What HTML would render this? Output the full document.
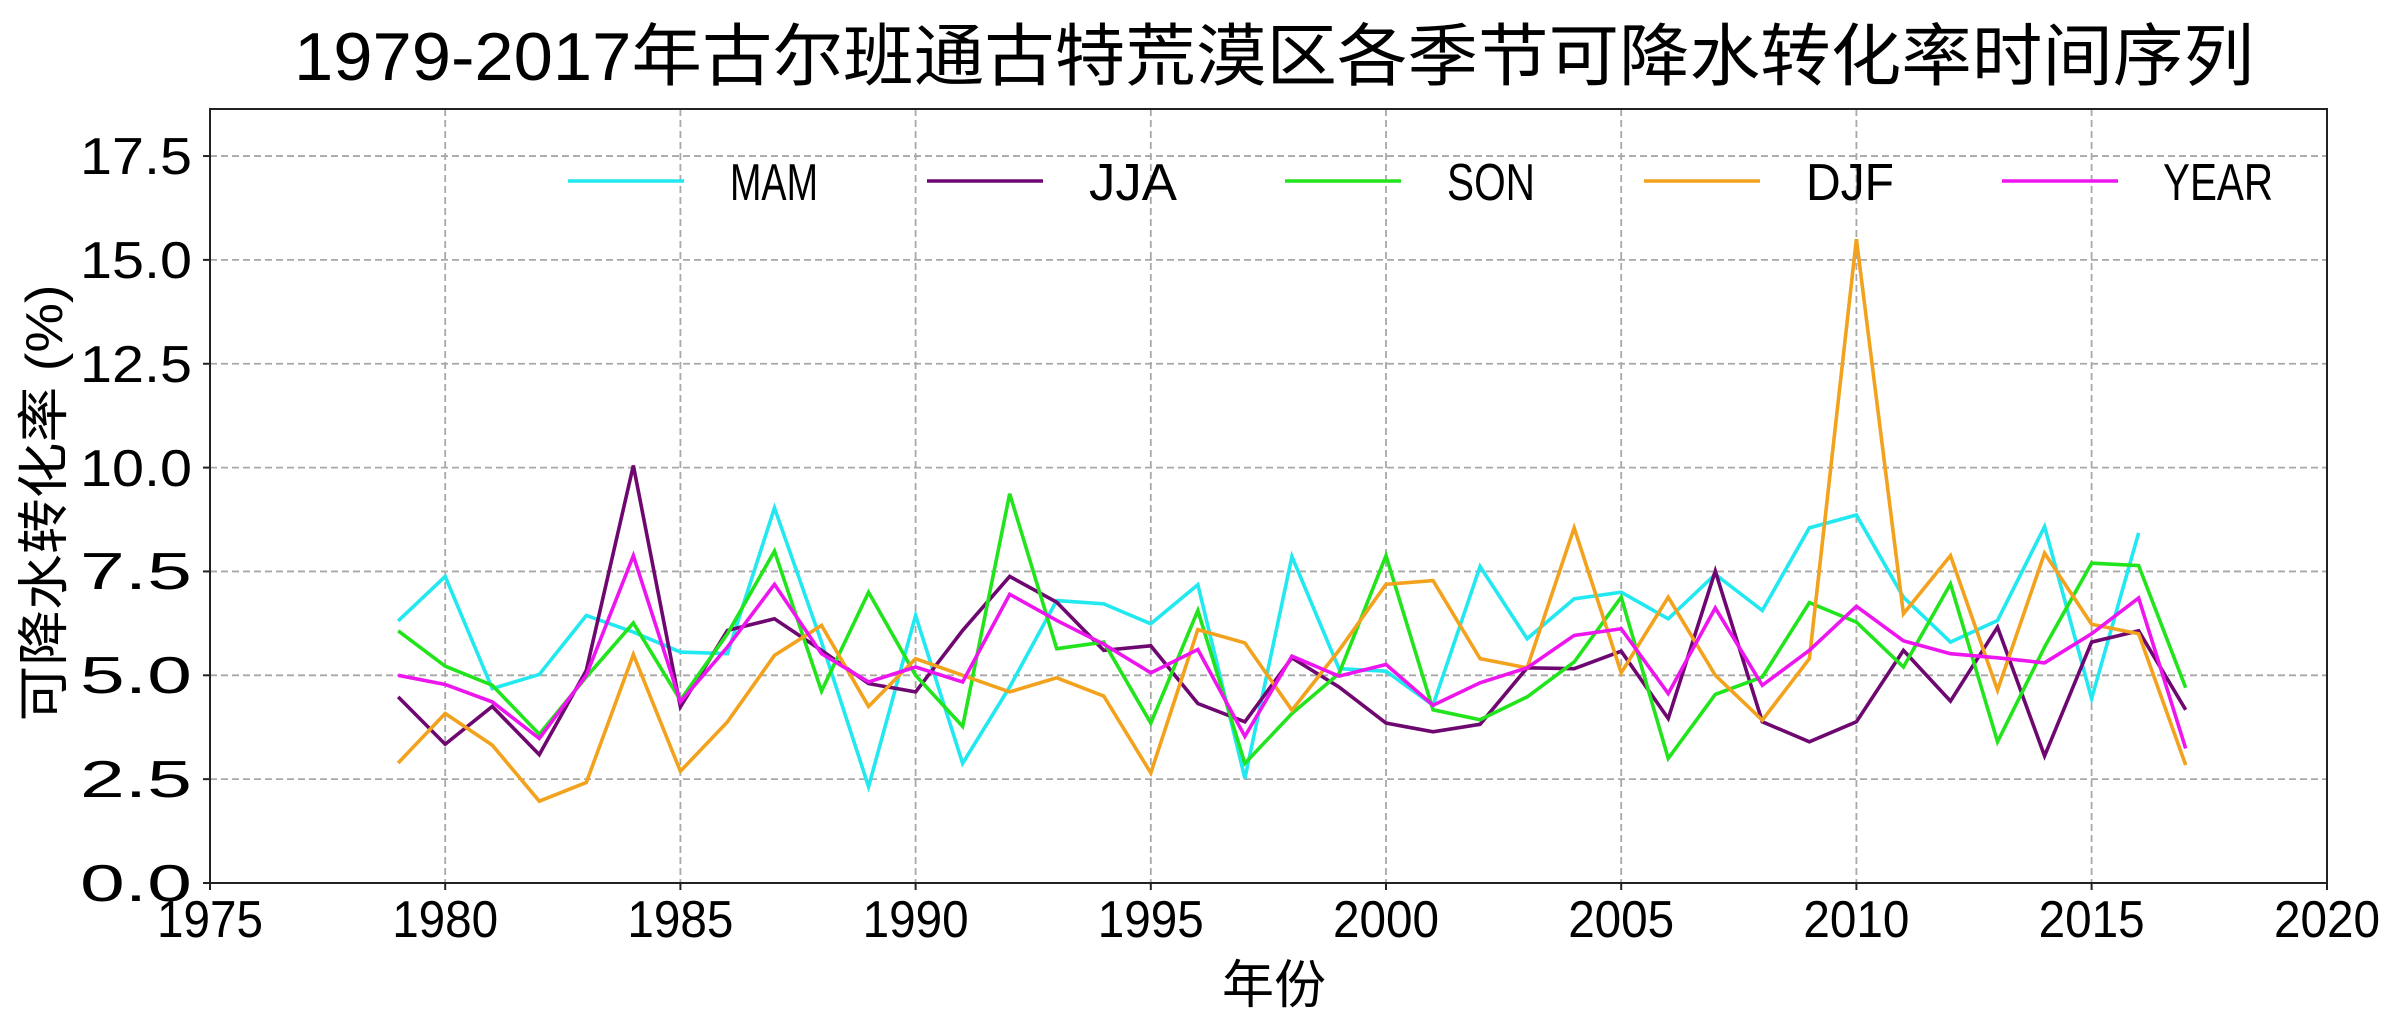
<!DOCTYPE html>
<html><head><meta charset="utf-8"><style>html,body{margin:0;padding:0;background:#fff;}svg{display:block}</style></head>
<body>
<svg width="2400" height="1025" viewBox="0 0 2400 1025" xmlns="http://www.w3.org/2000/svg" font-family="'Liberation Sans','Noto Sans CJK SC',sans-serif">
<rect width="2400" height="1025" fill="#fff"/>
<text x="1274" y="80" font-size="68" text-anchor="middle" textLength="1960" lengthAdjust="spacingAndGlyphs">1979-2017年古尔班通古特荒漠区各季节可降水转化率时间序列</text>
<g stroke="#a8a8a8" stroke-width="1.8" stroke-dasharray="7,4">
<line x1="445.2" y1="109" x2="445.2" y2="883"/><line x1="680.4" y1="109" x2="680.4" y2="883"/><line x1="915.6" y1="109" x2="915.6" y2="883"/><line x1="1150.8" y1="109" x2="1150.8" y2="883"/><line x1="1386" y1="109" x2="1386" y2="883"/><line x1="1621.2" y1="109" x2="1621.2" y2="883"/><line x1="1856.4" y1="109" x2="1856.4" y2="883"/><line x1="2091.6" y1="109" x2="2091.6" y2="883"/>
<line x1="210" y1="779.15" x2="2327" y2="779.15"/><line x1="210" y1="675.3" x2="2327" y2="675.3"/><line x1="210" y1="571.45" x2="2327" y2="571.45"/><line x1="210" y1="467.6" x2="2327" y2="467.6"/><line x1="210" y1="363.75" x2="2327" y2="363.75"/><line x1="210" y1="259.9" x2="2327" y2="259.9"/><line x1="210" y1="156.05" x2="2327" y2="156.05"/>
</g>
<g transform="translate(210,883) scale(47.04,-41.54)" fill="none" stroke-width="3.6" stroke-linejoin="miter">
<polyline vector-effect="non-scaling-stroke" stroke="#22e8f0" points="4,6.31 5,7.38 6,4.68 7,5.02 8,6.44 9,6.04 10,5.56 11,5.52 12,9.03 13,5.8 14,2.32 15,6.44 16,2.88 17,4.72 18,6.8 19,6.72 20,6.24 21,7.18 22,2.52 23,7.86 24,5.16 25,5.1 26,4.28 27,7.62 28,5.88 29,6.84 30,7.0 31,6.36 32,7.43 33,6.56 34,8.55 35,8.86 36,6.88 37,5.8 38,6.32 39,8.58 40,4.44 41,8.43"/>
<polyline vector-effect="non-scaling-stroke" stroke="#6e0870" points="4,4.48 5,3.34 6,4.25 7,3.09 8,5.12 9,10.05 10,4.24 11,6.08 12,6.36 13,5.6 14,4.8 15,4.6 16,6.08 17,7.38 18,6.76 19,5.6 20,5.71 21,4.32 22,3.88 23,5.42 24,4.72 25,3.85 26,3.64 27,3.82 28,5.18 29,5.16 30,5.58 31,3.96 32,7.51 33,3.88 34,3.4 35,3.88 36,5.6 37,4.38 38,6.16 39,3.06 40,5.8 41,6.07 42,4.17"/>
<polyline vector-effect="non-scaling-stroke" stroke="#22e41c" points="4,6.07 5,5.22 6,4.76 7,3.58 8,4.96 9,6.26 10,4.4 11,6.0 12,7.99 13,4.62 14,7.0 15,5.0 16,3.77 17,9.37 18,5.64 19,5.8 20,3.85 21,6.56 22,2.88 23,4.08 24,5.04 25,7.88 26,4.17 27,3.93 28,4.48 29,5.32 30,6.88 31,3.0 32,4.54 33,4.96 34,6.75 35,6.28 36,5.2 37,7.2 38,3.4 39,5.68 40,7.7 41,7.64 42,4.7"/>
<polyline vector-effect="non-scaling-stroke" stroke="#f2a21c" points="4,2.89 5,4.08 6,3.32 7,1.97 8,2.42 9,5.5 10,2.69 11,3.88 12,5.48 13,6.2 14,4.25 15,5.4 16,5.0 17,4.6 18,4.94 19,4.5 20,2.65 21,6.1 22,5.78 23,4.16 24,5.6 25,7.19 26,7.28 27,5.4 28,5.18 29,8.55 30,5.06 31,6.88 32,5.0 33,3.92 34,5.4 35,15.5 36,6.48 37,7.88 38,4.64 39,7.94 40,6.23 41,6.0 42,2.84"/>
<polyline vector-effect="non-scaling-stroke" stroke="#ee16ee" points="4,5.0 5,4.78 6,4.36 7,3.48 8,5.0 9,7.88 10,4.36 11,5.68 12,7.19 13,5.52 14,4.84 15,5.2 16,4.84 17,6.95 18,6.32 19,5.75 20,5.06 21,5.62 22,3.53 23,5.46 24,4.98 25,5.26 26,4.28 27,4.82 28,5.18 29,5.96 30,6.12 31,4.56 32,6.62 33,4.76 34,5.6 35,6.66 36,5.83 37,5.52 38,5.42 39,5.3 40,6.0 41,6.86 42,3.24"/>
</g>
<rect x="210" y="109" width="2117" height="774" fill="none" stroke="#222" stroke-width="2"/>
<g stroke="#222" stroke-width="2">
<line x1="210" y1="883" x2="210" y2="890"/><line x1="445.2" y1="883" x2="445.2" y2="890"/><line x1="680.4" y1="883" x2="680.4" y2="890"/><line x1="915.6" y1="883" x2="915.6" y2="890"/><line x1="1150.8" y1="883" x2="1150.8" y2="890"/><line x1="1386" y1="883" x2="1386" y2="890"/><line x1="1621.2" y1="883" x2="1621.2" y2="890"/><line x1="1856.4" y1="883" x2="1856.4" y2="890"/><line x1="2091.6" y1="883" x2="2091.6" y2="890"/><line x1="2327" y1="883" x2="2327" y2="890"/>
<line x1="203" y1="883" x2="210" y2="883"/><line x1="203" y1="779.15" x2="210" y2="779.15"/><line x1="203" y1="675.3" x2="210" y2="675.3"/><line x1="203" y1="571.45" x2="210" y2="571.45"/><line x1="203" y1="467.6" x2="210" y2="467.6"/><line x1="203" y1="363.75" x2="210" y2="363.75"/><line x1="203" y1="259.9" x2="210" y2="259.9"/><line x1="203" y1="156.05" x2="210" y2="156.05"/>
</g>
<g font-size="52" text-anchor="end">
<text x="192" y="901" textLength="112" lengthAdjust="spacingAndGlyphs">0.0</text>
<text x="192" y="797" textLength="112" lengthAdjust="spacingAndGlyphs">2.5</text>
<text x="192" y="693" textLength="112" lengthAdjust="spacingAndGlyphs">5.0</text>
<text x="192" y="589" textLength="112" lengthAdjust="spacingAndGlyphs">7.5</text>
<text x="192" y="486" textLength="112" lengthAdjust="spacingAndGlyphs">10.0</text>
<text x="192" y="382" textLength="112" lengthAdjust="spacingAndGlyphs">12.5</text>
<text x="192" y="278" textLength="112" lengthAdjust="spacingAndGlyphs">15.0</text>
<text x="192" y="174" textLength="112" lengthAdjust="spacingAndGlyphs">17.5</text>
</g>
<g font-size="52" text-anchor="middle">
<text x="210" y="937" textLength="106" lengthAdjust="spacingAndGlyphs">1975</text>
<text x="445.2" y="937" textLength="106" lengthAdjust="spacingAndGlyphs">1980</text>
<text x="680.4" y="937" textLength="106" lengthAdjust="spacingAndGlyphs">1985</text>
<text x="915.6" y="937" textLength="106" lengthAdjust="spacingAndGlyphs">1990</text>
<text x="1150.8" y="937" textLength="106" lengthAdjust="spacingAndGlyphs">1995</text>
<text x="1386" y="937" textLength="106" lengthAdjust="spacingAndGlyphs">2000</text>
<text x="1621.2" y="937" textLength="106" lengthAdjust="spacingAndGlyphs">2005</text>
<text x="1856.4" y="937" textLength="106" lengthAdjust="spacingAndGlyphs">2010</text>
<text x="2091.6" y="937" textLength="106" lengthAdjust="spacingAndGlyphs">2015</text>
<text x="2327" y="937" textLength="106" lengthAdjust="spacingAndGlyphs">2020</text>
</g>
<text x="1274" y="1003" font-size="52" text-anchor="middle">年份</text>
<text transform="translate(62,503) rotate(-90)" font-size="52" text-anchor="middle" textLength="437" lengthAdjust="spacingAndGlyphs">可降水转化率 (%)</text>
<g stroke-width="3.6">
<line x1="568" y1="181" x2="684" y2="181" stroke="#22e8f0"/>
<line x1="927" y1="181" x2="1043" y2="181" stroke="#6e0870"/>
<line x1="1285" y1="181" x2="1401" y2="181" stroke="#22e41c"/>
<line x1="1644" y1="181" x2="1760" y2="181" stroke="#f2a21c"/>
<line x1="2002" y1="181" x2="2118" y2="181" stroke="#ee16ee"/>
</g>
<g font-size="52">
<text x="730" y="200" textLength="88" lengthAdjust="spacingAndGlyphs">MAM</text>
<text x="1089" y="200" textLength="88" lengthAdjust="spacingAndGlyphs">JJA</text>
<text x="1447" y="200" textLength="88" lengthAdjust="spacingAndGlyphs">SON</text>
<text x="1806" y="200" textLength="88" lengthAdjust="spacingAndGlyphs">DJF</text>
<text x="2163" y="200" textLength="110" lengthAdjust="spacingAndGlyphs">YEAR</text>
</g>
</svg>
</body></html>
